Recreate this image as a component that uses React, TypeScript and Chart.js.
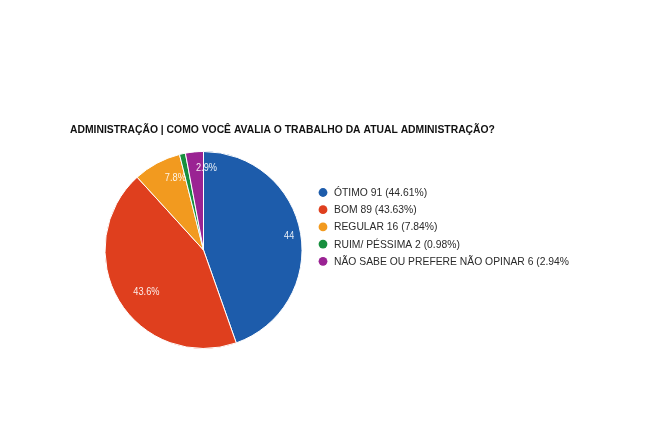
import React, { useEffect, useRef } from 'react'
import Chart, { ChartConfiguration, Plugin } from 'chart.js/auto'

const TITLE = 'ADMINISTRAÇÃO | COMO VOCÊ AVALIA O TRABALHO DA ATUAL ADMINISTRAÇÃO?'
const categories = ['ÓTIMO', 'BOM', 'REGULAR', 'RUIM/ PÉSSIMA', 'NÃO SABE OU PREFERE NÃO OPINAR']
const votes = [91, 89, 16, 2, 6]
const legendTexts = [
  'ÓTIMO 91 (44.61%)',
  'BOM 89 (43.63%)',
  'REGULAR 16 (7.84%)',
  'RUIM/ PÉSSIMA 2 (0.98%)',
  'NÃO SABE OU PREFERE NÃO OPINAR 6 (2.94%'
]
const colors = ['#1d5cab', '#df3f1e', '#f29a1f', '#178f3e', '#9a2393']

const FONT = "'Liberation Sans', Arial, sans-serif"

// the original uses a narrower face; squeeze the regular one horizontally
function narrowText(ctx: CanvasRenderingContext2D, t: string, x: number, y: number, k: number) {
  ctx.save()
  ctx.translate(x, y)
  ctx.scale(k, 1)
  ctx.fillText(t, 0, 0)
  ctx.restore()
}

// percent labels inside the slices, left-aligned and clipped to the pie
const sliceLabels: Plugin<'pie'> = {
  id: 'sliceLabels',
  afterDatasetsDraw(chart) {
    const ctx = chart.ctx
    const meta = chart.getDatasetMeta(0)
    const total = votes.reduce((a, b) => a + b, 0)
    meta.data.forEach((el, i) => {
      const pct = (votes[i] / total) * 100
      if (pct < 1) return
      const { x, y, startAngle, endAngle, outerRadius } = el.getProps(
        ['x', 'y', 'startAngle', 'endAngle', 'outerRadius'],
        true
      ) as any
      const mid = (startAngle + endAngle) / 2
      const r = outerRadius * 0.83
      ctx.save()
      ctx.beginPath()
      ctx.arc(x, y, outerRadius - 7, 0, Math.PI * 2)
      ctx.clip()
      ctx.font = `10.5px ${FONT}`
      ctx.fillStyle = 'rgba(255,255,255,0.9)'
      ctx.textAlign = 'left'
      ctx.textBaseline = 'middle'
      narrowText(ctx, pct.toFixed(1) + '%', x + Math.cos(mid) * r, y + Math.sin(mid) * r, 0.88)
      ctx.restore()
    })
  }
}

// title and legend drawn beside the pie
const sideTexts: Plugin<'pie'> = {
  id: 'sideTexts',
  afterDraw(chart) {
    const ctx = chart.ctx
    const area = chart.chartArea
    ctx.save()
    ctx.font = `bold 11.5px ${FONT}`
    ctx.fillStyle = '#111'
    ctx.textAlign = 'left'
    ctx.textBaseline = 'alphabetic'
    narrowText(ctx, TITLE, 70, 133, 0.9)

    const bg = chart.data.datasets[0].backgroundColor as string[]
    ctx.font = `11px ${FONT}`
    ctx.textBaseline = 'middle'
    legendTexts.forEach((t, i) => {
      const cy = 192.5 + i * 17.2
      const cx = area.right + 20
      ctx.beginPath()
      ctx.arc(cx, cy, 4.4, 0, Math.PI * 2)
      ctx.fillStyle = bg[i]
      ctx.fill()
      ctx.fillStyle = '#2a2a2a'
      narrowText(ctx, t, cx + 11, cy + 0.5, 0.94)
    })
    ctx.restore()
  }
}

const App: React.FC = () => {
  const chartRef = useRef<HTMLCanvasElement | null>(null)

  useEffect(() => {
    if (!chartRef.current) return
    const config: ChartConfiguration<'pie'> = {
      type: 'pie',
      data: {
        labels: categories,
        datasets: [
          {
            data: votes,
            backgroundColor: colors,
            borderColor: '#ffffff',
            borderWidth: 1
          }
        ]
      },
      options: {
        responsive: true,
        maintainAspectRatio: false,
        animation: false,
        layout: { padding: { left: 104, right: 348, top: 151, bottom: 98 } },
        plugins: {
          legend: { display: false },
          title: { display: false },
          tooltip: { enabled: false }
        }
      },
      plugins: [sliceLabels, sideTexts]
    }
    const pie = new Chart(chartRef.current, config)
    return () => {
      pie.destroy()
    }
  }, [])

  return (
    <div style={{ position: 'absolute', left: 0, top: 0, width: 651, height: 447, background: '#fff' }}>
      <canvas ref={chartRef} />
    </div>
  )
}

export default App
